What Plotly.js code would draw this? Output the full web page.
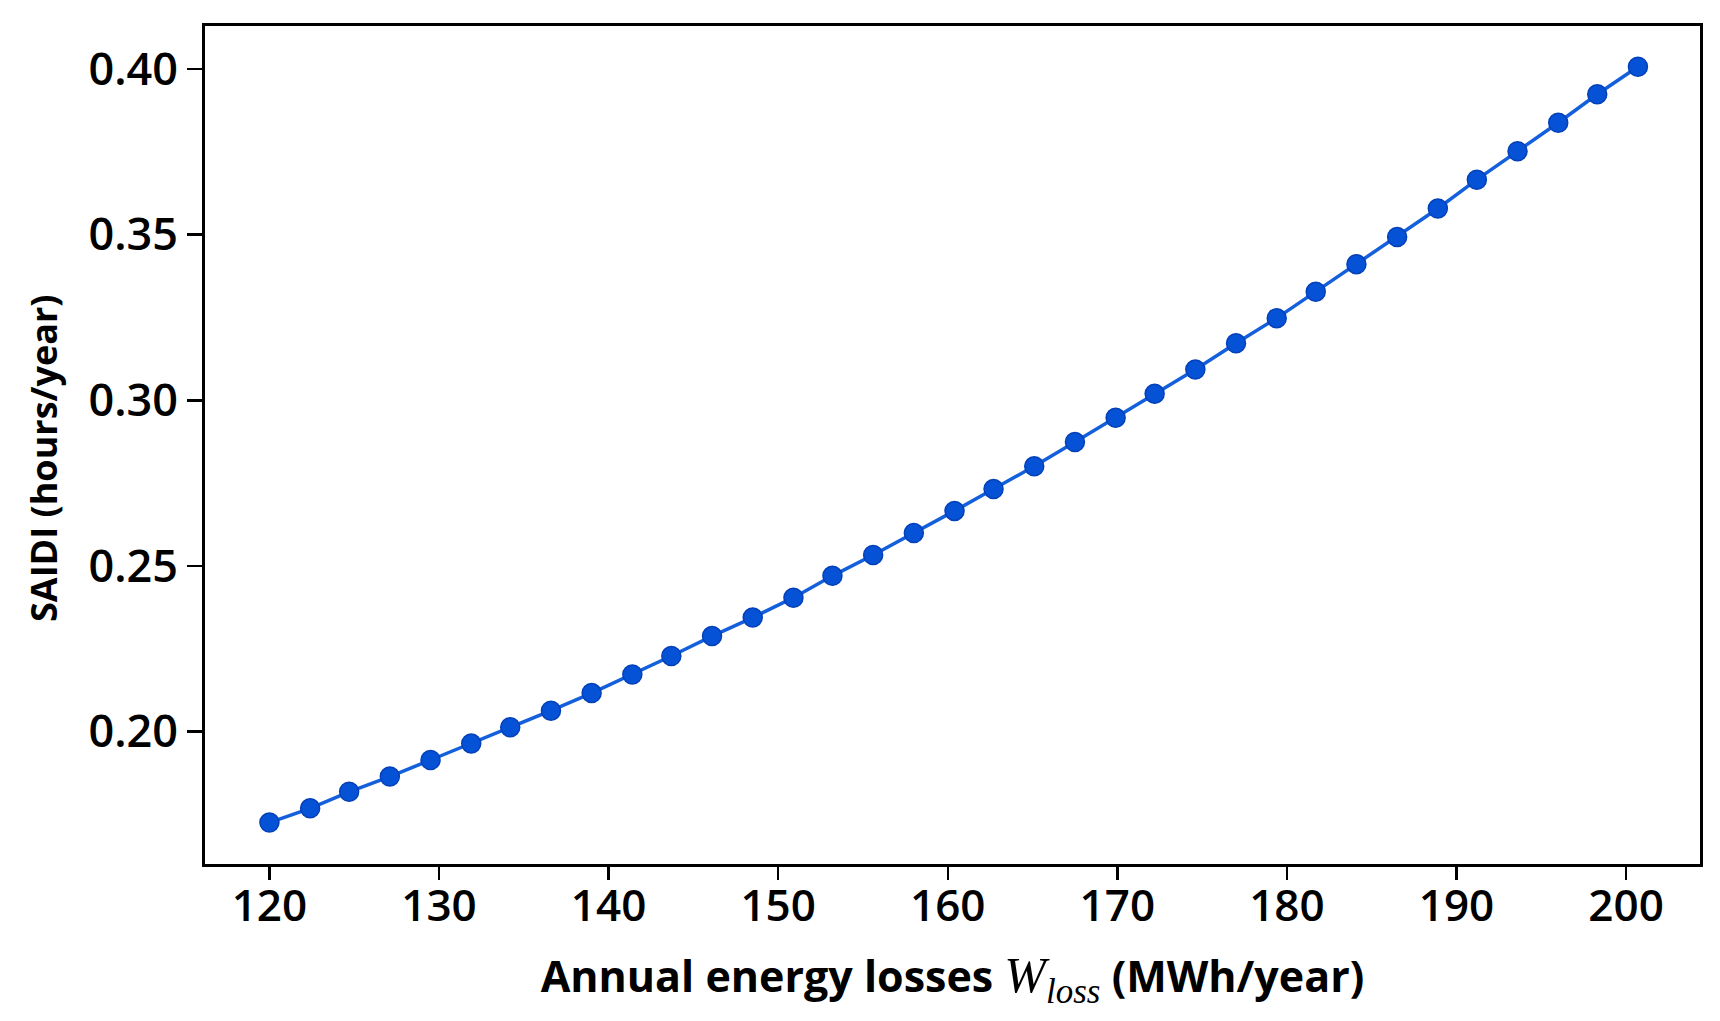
<!DOCTYPE html>
<html>
<head>
<meta charset="utf-8">
<script src="https://cdn.plot.ly/plotly-3.0.1.min.js"></script>
<style>
  html, body { margin: 0; padding: 0; background: #fff; }
  #grafico { width: 1720px; height: 1021px; }
</style>
</head>
<body>
<div id="grafico"></div>
<script>
// Dados
const perdasAnuais = [120.0, 122.4, 124.7, 127.1, 129.5, 131.9, 134.2, 136.6, 139.0, 141.4,
    143.7, 146.1, 148.5, 150.9, 153.2, 155.6, 158.0, 160.4, 162.7, 165.1,
    167.5, 169.9, 172.2, 174.6, 177.0, 179.4, 181.7, 184.1, 186.5, 188.9,
    191.2, 193.6, 196.0, 198.3, 200.7];
const saidi = [0.1725, 0.1768, 0.1818, 0.1864, 0.1914, 0.1964, 0.2013, 0.2063, 0.2116, 0.2172,
    0.2228, 0.2288, 0.2344, 0.2404, 0.2470, 0.2533, 0.2599, 0.2666, 0.2732, 0.2801,
    0.2874, 0.2947, 0.3020, 0.3093, 0.3172, 0.3248, 0.3328, 0.3411, 0.3493, 0.3579,
    0.3666, 0.3752, 0.3838, 0.3924, 0.4007];
const xTicks = [120, 130, 140, 150, 160, 170, 180, 190, 200];
const yTicks = [0.20, 0.25, 0.30, 0.35, 0.40];

const fonte = "'Open Sans', 'DejaVu Sans', sans-serif";

var serie = {
    x: perdasAnuais,
    y: saidi,
    mode: 'lines+markers',
    type: 'scatter',
    line: {color: '#1460dc', width: 3.5},
    marker: {color: '#0652d6', size: 19, line: {color: '#0440b8', width: 1.5}},
    hoverinfo: 'x+y'
};

var layout = {
    width: 1720,
    height: 1021,
    margin: {l: 205, r: 20, t: 26, b: 157},
    paper_bgcolor: '#fff',
    plot_bgcolor: '#fff',
    showlegend: false,
    font: {family: fonte, color: '#000'},
    xaxis: {
        range: [116.2, 204.36],
        tickvals: xTicks,
        ticks: 'outside',
        ticklen: 13,
        tickwidth: 2.5,
        tickcolor: '#000',
        ticklabelstandoff: -12,
        showline: true,
        linecolor: '#000',
        linewidth: 3,
        mirror: true,
        showgrid: false,
        zeroline: false,
        tickfont: {size: 44, family: fonte, weight: 600},
        title: {
            text: "Annual energy losses <span style=\"font-family:'Liberation Serif';font-style:italic;font-weight:normal;font-size:50px\">W<sub>loss</sub></span> (MWh/year)",
            font: {size: 43, family: fonte, weight: 700},
            standoff: 30
        }
    },
    yaxis: {
        range: [0.160, 0.413],
        tickvals: yTicks,
        tickformat: '.2f',
        ticks: 'outside',
        ticklen: 15,
        tickwidth: 2.5,
        tickcolor: '#000',
        showline: true,
        linecolor: '#000',
        linewidth: 3,
        mirror: true,
        showgrid: false,
        zeroline: false,
        tickfont: {size: 45, family: fonte, weight: 600}
    },
    // titulo do eixo y como anotacao (fica um pouco abaixo do centro)
    annotations: [{
        text: 'SAIDI (hours/year)',
        xref: 'paper', yref: 'paper',
        x: 0, y: 0.5,
        xanchor: 'center', yanchor: 'middle',
        xshift: -162, yshift: -14,
        textangle: -90,
        showarrow: false,
        font: {size: 36, family: fonte, weight: 700, color: '#000'}
    }]
};

Plotly.newPlot('grafico', [serie], layout, {displayModeBar: false, staticPlot: true});
</script>
</body>
</html>
